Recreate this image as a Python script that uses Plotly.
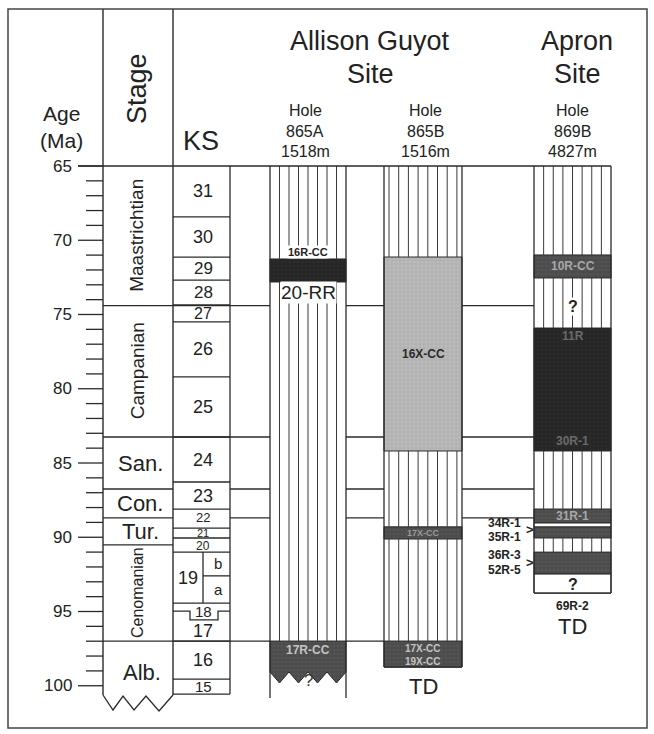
import plotly.graph_objects as go

# ---------------- data ----------------
age_major = [65, 70, 75, 80, 85, 90, 95, 100]
age_minor = list(range(65, 101))

stage_names = ["Maastrichtian", "Campanian", "San.", "Con.", "Tur.", "Cenomanian", "Alb."]
stage_top = [65.0, 74.4, 83.25, 86.75, 88.7, 90.52, 96.99]
stage_base = [74.4, 83.25, 86.75, 88.7, 90.52, 96.99, 100.62]
stage_rotated = [True, True, False, False, False, True, False]

ks_names = ["31", "30", "29", "28", "27", "26", "25", "24", "23", "22", "21", "20",
            "19", "18", "17", "16", "15"]
ks_top = [65.0, 68.43, 71.13, 72.68, 74.36, 75.5, 79.2, 83.25, 86.28, 88.1, 89.38,
          90.05, 91.0, 94.43, 95.57, 96.99, 99.55]
ks_base = ks_top[1:] + [100.56]
ks19_sub = ["b", "a"]
ks19_split = 92.6
ks18_edge = 94.97

hole_names = ["865A", "865B", "869B"]
hole_depth = ["1518m", "1516m", "4827m"]
site_names = [["Allison Guyot", "Site"], ["Apron", "Site"]]

# lithology intervals per hole: (top, base, kind)
h865A_top = [65.0, 71.26, 72.81, 96.99]
h865A_base = [71.26, 72.81, 96.99, 99.07]
h865A_kind = ["hatch", "black", "hatch", "dark"]

h865B_top = [65.0, 71.13, 84.19, 89.3, 90.12, 96.99]
h865B_base = [71.13, 84.19, 89.3, 90.12, 96.99, 98.74]
h865B_kind = ["hatch", "gray", "hatch", "dark", "hatch", "dark"]

h869B_top = [65.0, 70.99, 72.54, 75.91, 84.19, 88.1, 89.04, 89.31, 90.05, 91.0, 92.48]
h869B_base = [70.99, 72.54, 75.91, 84.19, 88.1, 89.04, 89.31, 90.05, 91.0, 92.48, 93.76]
h869B_kind = ["hatch", "dark", "hatch", "black", "hatch", "dark", "blank", "dark",
              "hatch", "dark", "blank"]

# sample labels: (hole, age, text)
samples_in = [
    ("865A", 70.79, "16R-CC"), ("865A", 73.5, "20-RR"), ("865A", 97.62, "17R-CC"),
    ("865A", 99.62, "?"),
    ("865B", 77.66, "16X-CC"), ("865B", 89.71, "17X-CC"), ("865B", 97.5, "17X-CC"),
    ("865B", 98.38, "19X-CC"), ("865B", 100.05, "TD"),
    ("869B", 71.76, "10R-CC"), ("869B", 74.43, "?"), ("869B", 76.45, "11R"),
    ("869B", 83.55, "30R-1"), ("869B", 88.57, "31R-1"), ("869B", 93.15, "?"),
    ("869B", 94.6, "69R-2"), ("869B", 96.0, "TD"),
]
samples_out = [(89.05, "34R-1"), (89.98, "35R-1"), (91.22, "36R-3"), (92.2, "52R-5")]
arrows_out = [89.51, 91.71]

correl_full = [74.4, 83.25]
correl_part = [86.75, 88.7]

# ---------------- layout geometry ----------------
W, H = 654, 734
Y0PX, SCALE = 166.0, 14.85          # pixel of 65 Ma, pixels per Ma


def px_age(p):
    return 65 + (p - Y0PX) / SCALE


AGE_TOP, AGE_BOT = px_age(0), px_age(H)
X_AGE_R, X_STAGE_R, X_KS_R = 103, 173, 230
COLS = {
    "865A": dict(x0=270, x1=346, inner=[270 + 9.5 * k for k in range(1, 8)], bottom=100.82),
    "865B": dict(x0=384, x1=462, inner=[389 + 9.7 * k for k in range(8)], bottom=98.74),
    "869B": dict(x0=534, x1=611, inner=[534 + 9.625 * k for k in range(1, 8)], bottom=93.76),
}
FILL = {"black": "#262626", "dark": "#4e4e4e", "gray": "#b4b4b4", "blank": "#ffffff"}
PATTERN = {
    "gray": dict(shape=".", bgcolor="#b2b2b2", fgcolor="#c6c6c6", size=4, solidity=0.35),
    "dark": dict(shape=".", bgcolor="#4c4c4c", fgcolor="#5c5c5c", size=4, solidity=0.35),
    "black": dict(shape=".", bgcolor="#262626", fgcolor="#323232", size=4, solidity=0.35),
}
LINE = "#2a2a2a"
FONT = "Liberation Sans, Arial, Helvetica, sans-serif"

fig = go.Figure()


def lines(xs, ys, color=LINE, width=1.2):
    fig.add_trace(go.Scatter(x=xs, y=ys, mode="lines", line=dict(color=color, width=width),
                             hoverinfo="skip", showlegend=False))


def poly(xs, ys, kind):
    kw = {}
    if kind in PATTERN:
        kw["fillpattern"] = PATTERN[kind]
    fig.add_trace(go.Scatter(x=xs, y=ys, mode="lines", fill="toself", fillcolor=FILL[kind],
                             line=dict(color=LINE, width=1), hoverinfo="skip",
                             showlegend=False, **kw))


def text(x, y, s, size=14, color="#222", xanchor="center", angle=0, bold=False, bg=None):
    fig.add_annotation(x=x, y=y, xref="x", yref="y", text=("<b>%s</b>" % s) if bold else s,
                       showarrow=False, xanchor=xanchor, yanchor="middle", textangle=angle,
                       font=dict(family=FONT, size=size, color=color),
                       bgcolor=bg, borderpad=0)


# ---- hole columns ----
holes = {
    "865A": (h865A_top, h865A_base, h865A_kind),
    "865B": (h865B_top, h865B_base, h865B_kind),
    "869B": (h869B_top, h869B_base, h869B_kind),
}
for name, (tops, bases, kinds) in holes.items():
    c = COLS[name]
    hx, hy = [], []
    for t, b, k in zip(tops, bases, kinds):
        if k == "hatch":
            for xi in c["inner"]:
                hx += [xi, xi, None]
                hy += [t, b, None]
        elif name == "865A" and b == h865A_base[-1]:
            # band with zig-zag (broken) base
            zx = [c["x1"] - (c["x1"] - c["x0"]) * i / 8 for i in range(9)]
            tip = px_age(683)
            zy = [b if i % 2 == 0 else tip for i in range(9)]
            poly([c["x0"], c["x1"]] + zx + [c["x0"]], [t, t] + zy + [t], k)
        else:
            poly([c["x0"], c["x1"], c["x1"], c["x0"], c["x0"]], [t, t, b, b, t], k)
    lines(hx, hy, color="#3a3a3a", width=1.0)
    lines([c["x0"], c["x0"], None, c["x1"], c["x1"]], [65, c["bottom"], None, 65, c["bottom"]],
          width=1.3)
    if name != "865A":
        lines([c["x0"], c["x1"]], [c["bottom"], c["bottom"]], width=1.3)

# ---- correlation / boundary lines ----
cx, cy = [], []
for a in correl_full:
    for x0, x1 in [(X_AGE_R, 270), (346, 384), (462, 534)]:
        cx += [x0, x1, None]; cy += [a, a, None]
for a in correl_part:
    for x0, x1 in [(X_AGE_R, X_STAGE_R), (X_KS_R, 270), (346, 384), (462, 534)]:
        cx += [x0, x1, None]; cy += [a, a, None]
cx += [X_AGE_R, X_STAGE_R, None]; cy += [stage_top[5], stage_top[5], None]
for x0, x1 in [(X_AGE_R, 270), (346, 384)]:
    cx += [x0, x1, None]; cy += [stage_top[6], stage_top[6], None]
# header line at 65 Ma
cx += [78, 611, None]; cy += [65, 65, None]
lines(cx, cy, width=1.3)

# ---- age scale ----
tx, ty = [], []
for a in age_minor:
    x0 = 78 if a in age_major else 86
    tx += [x0, X_AGE_R, None]; ty += [a, a, None]
lines(tx, ty, width=1.3)
for a in age_major:
    text(73, a, str(a), size=17, xanchor="right")

# ---- stage column ----
zig_x = [103, 113, 123, 134, 146, 159, 173]
zig_y = [px_age(p) for p in [695, 710, 696, 710, 696, 711, 695]]
lines(zig_x, zig_y, width=1.3)
lines([X_AGE_R, X_AGE_R, None, X_STAGE_R, X_STAGE_R],
      [px_age(9), stage_base[-1], None, px_age(9), stage_base[-1]], width=1.4)
for nm, t, b, rot in zip(stage_names, stage_top, stage_base, stage_rotated):
    mid = (t + b) / 2
    if nm == "Alb.":
        text(142, px_age(672), nm, size=22)
    elif nm == "Cenomanian":
        text(137, mid, nm, size=16, angle=-90)
    elif rot:
        text(137, mid, nm, size=19, angle=-90)
    else:
        text(140, mid, nm, size=22)

# ---- KS column ----
small_ks = {"22": 13, "21": 11, "20": 12, "18": 15, "15": 15, "27": 16, "28": 17, "29": 17}
ks_shift = {"22": -0.05, "21": -0.03, "20": 0.08}
kx, ky = [X_KS_R, X_KS_R, None], [65, ks_base[-1], None]
for nm, t, b in zip(ks_names, ks_top, ks_base):
    if nm == "17":
        kx += [X_STAGE_R, 190, 190, 218, 218, X_KS_R, None]
        ky += [ks18_edge, ks18_edge, t, t, ks18_edge, ks18_edge, None]
    elif t != 65:
        kx += [X_STAGE_R, X_KS_R, None]; ky += [t, t, None]
    if nm == "19":
        text(188, (t + b) / 2, nm, size=18)
        kx += [203, 203, None, 203, X_KS_R, None]
        ky += [t, b, None, ks19_split, ks19_split, None]
        text(218, (t + ks19_split) / 2, ks19_sub[0], size=15)
        text(218, (ks19_split + b) / 2, ks19_sub[1], size=15)
    else:
        text(203, (t + b) / 2 + ks_shift.get(nm, 0), nm, size=small_ks.get(nm, 18))
kx += [X_STAGE_R, X_KS_R, None]; ky += [ks_base[-1], ks_base[-1], None]
lines(kx, ky, width=1.3)

# ---- sample labels ----
for hole, a, s in samples_in:
    c = COLS[hole]
    xm = (c["x0"] + c["x1"]) / 2
    st = dict(size=12, bold=True, color="#a8a8a8")
    if s == "16R-CC":
        st = dict(size=11, bold=True, bg="white")
    elif s == "20-RR":
        st = dict(size=19, bg="white")
    elif s == "16X-CC":
        st = dict(size=12, bold=True, color="#2a2a2a")
    elif s == "TD":
        st = dict(size=22)
    elif s == "69R-2":
        st = dict(size=12, bold=True)
    elif s == "?":
        st = dict(size=16, bold=True, color="#222")
        if hole == "869B" and a < 80:
            st["bg"] = "white"
        if hole == "865A":
            st = dict(size=17, bold=False, color="#333")
    elif hole == "865B" and 89 < a < 90.5:
        st = dict(size=9, bold=True, color="#9a9a9a")
    elif hole == "869B" and s in ("11R", "30R-1"):
        st = dict(size=12, bold=True, color="#6a6a6a")
    elif s in ("17X-CC", "19X-CC"):
        st = dict(size=10, bold=True, color="#c4c4c4")
    elif s == "17R-CC":
        st = dict(size=12, bold=True, color="#c4c4c4")
    text(xm, a, s, **st)
for a, s in samples_out:
    text(522, a, s, size=12, bold=True, xanchor="right")
for a in arrows_out:
    text(530, a, "&gt;", size=13, bold=True)

# ---- headers (paper coordinates) ----
def hdr(x, ypx, s, size, angle=0):
    fig.add_annotation(x=x, y=1 - ypx / H, xref="x", yref="paper", text=s, showarrow=False,
                       xanchor="center", yanchor="middle", textangle=angle,
                       font=dict(family=FONT, size=size, color="#222"))

hdr(61, 113, "Age", 21)
hdr(61, 140, "(Ma)", 21)
hdr(137, 89, "Stage", 27, angle=-90)
hdr(201, 141, "KS", 27)
for (l1, l2), x in zip(site_names, [370, 577]):
    hdr(x, 41, l1, 27)
    hdr(x, 74, l2, 27)
for nm, d, x in zip(hole_names, hole_depth, [305, 425, 572]):
    hdr(x, 110, "Hole", 16)
    hdr(x, 131, nm, 16)
    hdr(x, 151, d, 16)

# outer frame
fig.add_shape(type="rect", xref="paper", yref="paper", x0=8 / W, x1=647 / W,
              y0=1 - 728 / H, y1=1 - 9 / H, line=dict(color="#444", width=1.5))

fig.update_layout(
    width=W, height=H, margin=dict(l=0, r=0, t=0, b=0),
    paper_bgcolor="white", plot_bgcolor="white", showlegend=False,
    xaxis=dict(range=[0, W], visible=False, fixedrange=True),
    yaxis=dict(range=[AGE_BOT, AGE_TOP], visible=False, fixedrange=True),
)
fig.write_html("out.html", config={"displayModeBar": False},
               post_script="document.body.style.margin='0px';document.body.style.overflow='hidden';")
